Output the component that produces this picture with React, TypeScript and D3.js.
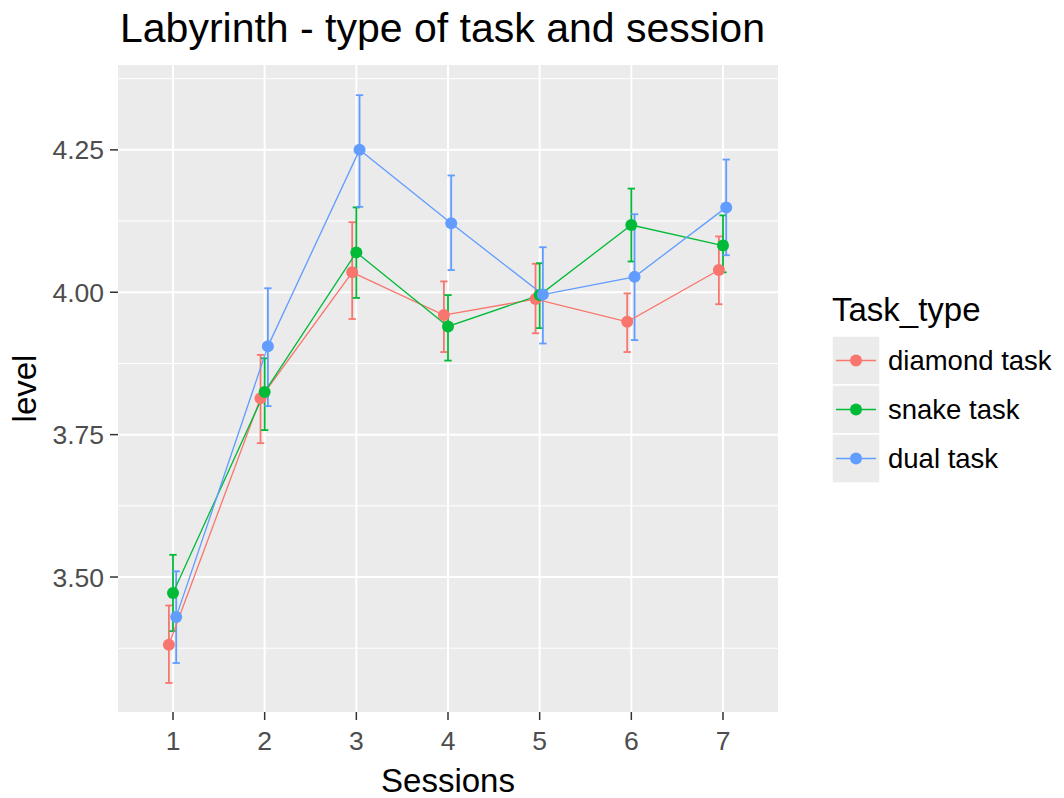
import React from "react";
import * as d3 from "d3";

const sessions = [1, 2, 3, 4, 5, 6, 7];
const taskTypes = ["diamond task", "snake task", "dual task"];
const colors = ["#F8766D", "#00BA38", "#619CFF"];

const diamondMean = [3.381, 3.814, 4.035, 3.96, 3.988, 3.948, 4.039];
const diamondLo = [3.314, 3.735, 3.953, 3.895, 3.928, 3.895, 3.979];
const diamondHi = [3.45, 3.89, 4.123, 4.019, 4.05, 3.998, 4.098];

const snakeMean = [3.472, 3.825, 4.07, 3.94, 3.995, 4.118, 4.082];
const snakeLo = [3.405, 3.758, 3.99, 3.88, 3.937, 4.054, 4.035];
const snakeHi = [3.539, 3.884, 4.149, 3.995, 4.051, 4.182, 4.135];

const dualMean = [3.43, 3.905, 4.25, 4.121, 3.996, 4.027, 4.149];
const dualLo = [3.349, 3.8, 4.15, 4.039, 3.91, 3.916, 4.065];
const dualHi = [3.51, 4.007, 4.346, 4.205, 4.079, 4.137, 4.233];

const yTicks = [3.5, 3.75, 4.0, 4.25];
const yMinor = [3.375, 3.625, 3.875, 4.125, 4.375];
const dodge = [-0.045, 0, 0.035];

const series = [
  { name: taskTypes[0], mean: diamondMean, lo: diamondLo, hi: diamondHi },
  { name: taskTypes[1], mean: snakeMean, lo: snakeLo, hi: snakeHi },
  { name: taskTypes[2], mean: dualMean, lo: dualLo, hi: dualHi },
];

const W = 1064;
const H = 798;
const panel = { l: 118, r: 778, t: 65, b: 712 };
const FONT = "'Liberation Sans', Arial, sans-serif";

export default function App() {
  const x = d3.scaleLinear().domain([0.4, 7.6]).range([panel.l, panel.r]);
  const y = d3.scaleLinear().domain([3.263, 4.399]).range([panel.b, panel.t]);

  const capHalf = 0.04;

  return (
    <svg width={W} height={H} style={{ position: "absolute", left: 0, top: 0, background: "#fff" }}>
      <rect x={0} y={0} width={W} height={H} fill="#fff" />
      {/* panel */}
      <rect x={panel.l} y={panel.t} width={panel.r - panel.l} height={panel.b - panel.t} fill="#EBEBEB" />
      {yMinor.map((v) => (
        <line key={"mn" + v} x1={panel.l} x2={panel.r} y1={y(v)} y2={y(v)} stroke="#fff" strokeWidth={1} />
      ))}
      {yTicks.map((v) => (
        <line key={"mj" + v} x1={panel.l} x2={panel.r} y1={y(v)} y2={y(v)} stroke="#fff" strokeWidth={2} />
      ))}
      {sessions.map((s) => (
        <line key={"vx" + s} x1={x(s)} x2={x(s)} y1={panel.t} y2={panel.b} stroke="#fff" strokeWidth={2} />
      ))}

      {/* error bars */}
      {series.map((sr, si) =>
        sessions.map((s, i) => {
          const cx = x(s + dodge[si]);
          const w = x(s + capHalf) - x(s);
          return (
            <g key={"eb" + si + "-" + i} stroke={colors[si]} strokeWidth={1.8} fill="none">
              <line x1={cx} x2={cx} y1={y(sr.lo[i])} y2={y(sr.hi[i])} />
              <line x1={cx - w} x2={cx + w} y1={y(sr.lo[i])} y2={y(sr.lo[i])} />
              <line x1={cx - w} x2={cx + w} y1={y(sr.hi[i])} y2={y(sr.hi[i])} />
            </g>
          );
        })
      )}

      {/* lines */}
      {series.map((sr, si) => {
        const path = d3
          .line<number>()
          .x((_, i) => x(sessions[i] + dodge[si]))
          .y((d) => y(d))(sr.mean);
        return <path key={"ln" + si} d={path || ""} fill="none" stroke={colors[si]} strokeWidth={1.3} />;
      })}

      {/* points */}
      {series.map((sr, si) =>
        sr.mean.map((v, i) => (
          <circle key={"pt" + si + "-" + i} cx={x(sessions[i] + dodge[si])} cy={y(v)} r={6} fill={colors[si]} />
        ))
      )}

      {/* y axis */}
      {yTicks.map((v) => (
        <g key={"yt" + v}>
          <line x1={panel.l - 8} x2={panel.l} y1={y(v)} y2={y(v)} stroke="#333" strokeWidth={1.5} />
          <text x={panel.l - 14} y={y(v) + 9.5} textAnchor="end" fontFamily={FONT} fontSize={26.5} fill="#4D4D4D">
            {d3.format(".2f")(v)}
          </text>
        </g>
      ))}
      {/* x axis */}
      {sessions.map((s) => (
        <g key={"xt" + s}>
          <line x1={x(s)} x2={x(s)} y1={panel.b} y2={panel.b + 8} stroke="#333" strokeWidth={1.5} />
          <text x={x(s)} y={panel.b + 38} textAnchor="middle" fontFamily={FONT} fontSize={26.5} fill="#4D4D4D">
            {s}
          </text>
        </g>
      ))}

      {/* titles */}
      <text x={120} y={42} fontFamily={FONT} fontSize={41} fill="#000">
        Labyrinth - type of task and session
      </text>
      <text x={(panel.l + panel.r) / 2} y={792} textAnchor="middle" fontFamily={FONT} fontSize={33} fill="#000">
        Sessions
      </text>
      <text
        transform={`translate(36, ${(panel.t + panel.b) / 2}) rotate(-90)`}
        textAnchor="middle"
        fontFamily={FONT}
        fontSize={33}
        fill="#000"
      >
        level
      </text>

      {/* legend */}
      <text x={832} y={321} fontFamily={FONT} fontSize={33} fill="#000">
        Task_type
      </text>
      {taskTypes.map((t, i) => {
        const top = 336 + i * 49;
        const cy = top + 24.5;
        return (
          <g key={"lg" + i}>
            <rect x={832} y={top} width={48} height={49} fill="#EBEBEB" stroke="#fff" strokeWidth={1.5} />
            <line x1={836} x2={876} y1={cy} y2={cy} stroke={colors[i]} strokeWidth={1.3} />
            <circle cx={856} cy={cy} r={6} fill={colors[i]} />
            <text x={888} y={cy + 9.5} fontFamily={FONT} fontSize={27.5} fill="#000">
              {t}
            </text>
          </g>
        );
      })}
    </svg>
  );
}
